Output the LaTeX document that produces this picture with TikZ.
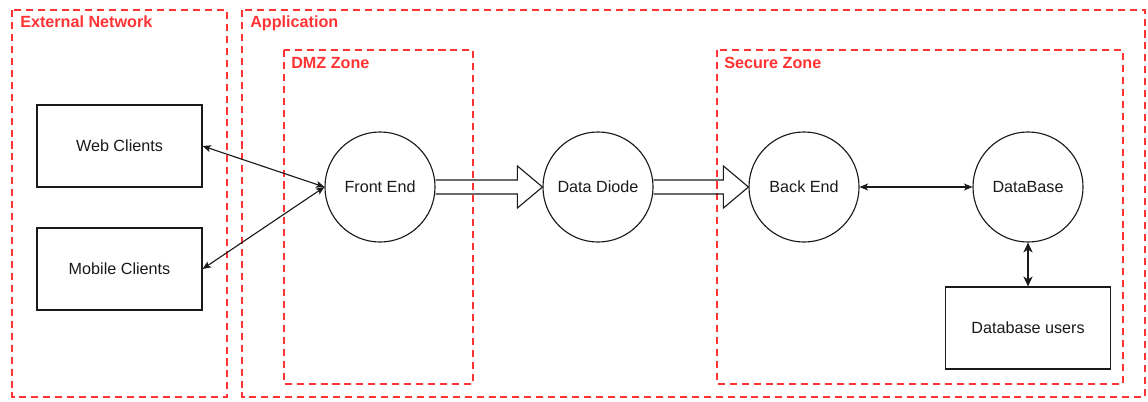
\documentclass[tikz,border=0pt]{standalone}
\usepackage{fontspec}
\setmainfont{Liberation Sans}
\usepackage{tikz}
\usetikzlibrary{arrows.meta, calc}

\definecolor{zonered}{HTML}{FF3333}
\definecolor{inkgray}{HTML}{1A1A1A}

\begin{document}
\begin{tikzpicture}[
            x=0.025cm,
            y=-0.025cm,
            >={Stealth[length=6pt, width=5pt, inset=1.5pt]},
            font=\fontsize{11.5}{14}\selectfont,
            zone/.style={draw=zonered, line width=1.4pt, dash pattern=on 5pt off 3.5pt},
            zonelabel/.style={text=zonered, font=\fontsize{11.5}{14}\selectfont\bfseries, anchor=base west, inner sep=0pt},
            proc/.style={circle, draw=inkgray, line width=0.8pt, fill=white, text=inkgray, minimum size=2.75cm, inner sep=0pt},
            client/.style={rectangle, draw=inkgray, line width=0.8pt, fill=white, text=inkgray, minimum width=4.125cm, minimum height=2.05cm},
            link/.style={<->, draw=inkgray, line width=0.8pt},
            flow/.style={draw=inkgray, line width=0.8pt}
        ]

            % --- Definitions ---
            \def\shaft{7}
            \def\head{21}
            \def\headlen{25}

            \useasboundingbox (0,0) rectangle (1148,401);

            % --- 1. Zones ---
            \draw[zone] (12,10) rectangle (227,397);
            \draw[zone] (242,10) rectangle (1145,397);
            \draw[zone] (284,50) rectangle (473,384);
            \draw[zone] (717,50) rectangle (1123,384);

            \node[zonelabel] (extlbl) at (20,27) {External Network};
            \node[zonelabel] (applbl) at (250,27) {Application};
            \node[zonelabel] (dmzlbl) at (291,68) {DMZ Zone};
            \node[zonelabel] (seclbl) at (724,68) {Secure Zone};

            % --- 2. Clients ---
            \node[client] (web) at (119.5,146) {Web Clients};
            \node[client] (mobile) at (119.5,269) {Mobile Clients};

            % --- 3. Processes ---
            \node[proc] (front) at (380,187) {Front End};
            \node[proc] (diode) at (598,187) {Data Diode};
            \node[proc] (back) at (804,187) {Back End};
            \node[proc] (db) at (1028,187) {DataBase};
            \node[client] (users) at (1028,328) {Database users};

            % --- 4. One-way flows ---
            \draw[flow] ($(front.east)+(0,-\shaft)$) -- ($(diode.west)+(-\headlen,-\shaft)$) -- ($(diode.west)+(-\headlen,-\head)$)
                -- (diode.west) -- ($(diode.west)+(-\headlen,\head)$) -- ($(diode.west)+(-\headlen,\shaft)$) -- ($(front.east)+(0,\shaft)$);
            \draw[flow] ($(diode.east)+(0,-\shaft)$) -- ($(back.west)+(-\headlen,-\shaft)$) -- ($(back.west)+(-\headlen,-\head)$)
                -- (back.west) -- ($(back.west)+(-\headlen,\head)$) -- ($(back.west)+(-\headlen,\shaft)$) -- ($(diode.east)+(0,\shaft)$);

            % --- 5. Two-way links ---
            \draw[link] (web.east) -- (front.west);
            \draw[link] (mobile.east) -- (front.west);
            \draw[link] (back.east) -- (db.west);
            \draw[link, line width=1.4pt, >={Stealth[length=7pt, width=6.5pt, inset=2pt]}] (db.south) -- (users.north);

        \end{tikzpicture}
\end{document}
